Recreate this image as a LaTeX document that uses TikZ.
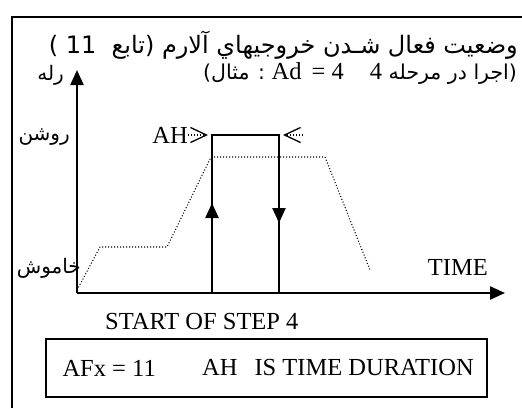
\documentclass[tikz,border=0pt]{standalone}
\usepackage{fontspec}
\setmainfont{Liberation Serif}
\newfontfamily\arabicfont[Script=Arabic]{DejaVu Sans}
\TeXXeTstate=1
\usetikzlibrary{positioning, arrows.meta}

\newcommand{\latin}{\rmfamily\fontsize{24.5}{26}\selectfont}

\begin{document}
\begin{tikzpicture}[
  x=1pt, y=-1pt,
  font=\latin,
  fa/.style={font=\arabicfont\fontsize{20}{22}\selectfont, inner sep=0pt},
  fahead/.style={font=\arabicfont\fontsize{#1}{25}\selectfont, inner sep=0pt},
  lat/.style={inner sep=0pt},
  frame/.style={line width=1.6pt},
  axis/.style={line width=2.2pt, -{Triangle[length=15pt, width=13pt]}},
  pulse/.style={line width=2.4pt},
  pulsearrow/.style={pulse, -{Triangle[length=15pt, width=13pt]}},
  level/.style={line width=1.1pt, dash pattern=on 1pt off 2pt},
  cue/.style={line width=1.1pt, dash pattern=on 1pt off 2pt,
              -{Straight Barb[length=16pt, width=15pt, line width=1.3pt]}},
  legendbox/.style={draw, line width=1.3pt, inner sep=0pt,
                    minimum width=441pt, minimum height=58pt}
]

\useasboundingbox (0,0) rectangle (522,408);

% ── Frame (only top and left edge fall inside) ───────────────────────────────
\draw[frame] (12,408) -- (12,17) -- (522,17);

% ── Title ────────────────────────────────────────────────────────────────────
\node[fahead=24, anchor=east] (title) at (518,45)
  {\beginR وضعيت فعال شـدن خروجيهاي آلارم (تابع\ \ 11 )\endR};
\node[fahead=20.5, anchor=west] (example) at (203,73)
  {\beginR (اجرا در مرحله {\latin 4}\hspace{26pt}\beginL{\latin Ad\ \,= 4}\endL{} : مثال)\endR};

% ── Axes ─────────────────────────────────────────────────────────────────────
\coordinate (O) at (77,293);
\coordinate (ytip) at (77,70);
\coordinate (xtip) at (505,293);
\draw[axis] (O) -- (ytip);
\draw[axis] (O) -- (xtip);

\node[fa, anchor=east] (relay) at (64,75) {\beginR رله\endR};
\node[fa, anchor=east] (on) at (70,137) {\beginR روشن\endR};
\node[fa, anchor=east] (off) at (81,268) {\beginR خاموش\endR};
\node[lat, anchor=east] (time) at (488,267) {TIME};

% ── Output pulse ─────────────────────────────────────────────────────────────
\coordinate (rise) at (212,293);
\coordinate (riseTop) at (212,135);
\coordinate (fall) at (279,293);
\coordinate (fallTop) at (279,135);
\draw[pulse] (rise) -- (riseTop) -- (fallTop) -- (fall);
\draw[pulsearrow] (rise) -- (212,203);
\draw[pulsearrow] (fallTop) -- (279,223);

% ── Analog level (dotted) ────────────────────────────────────────────────────
\draw[level] (77,290) -- (100,247) -- (167,247) -- (211,157)
  -- (325,157) -- (370,270);

% ── AH duration marks ────────────────────────────────────────────────────────
\node[lat, anchor=east] (ah) at (188,135) {AH};
\coordinate (ahEnd) at (303,135);
\draw[cue] (ah.east) -- ([xshift=-4pt]riseTop);
\draw[cue] (ahEnd) -- ([xshift=4pt]fallTop);

% ── Legend ───────────────────────────────────────────────────────────────────
\node[lat, anchor=west] (start) at (105,322) {START OF STEP 4};
\node[legendbox] (legend) at (266.5,368) {};
\node[lat, anchor=west] (afx) at ([xshift=17pt]legend.west) {AFx = 11};
\node[lat, anchor=west] (note) at (202,368) {AH\hspace{17pt}IS TIME DURATION};

\end{tikzpicture}
\end{document}
